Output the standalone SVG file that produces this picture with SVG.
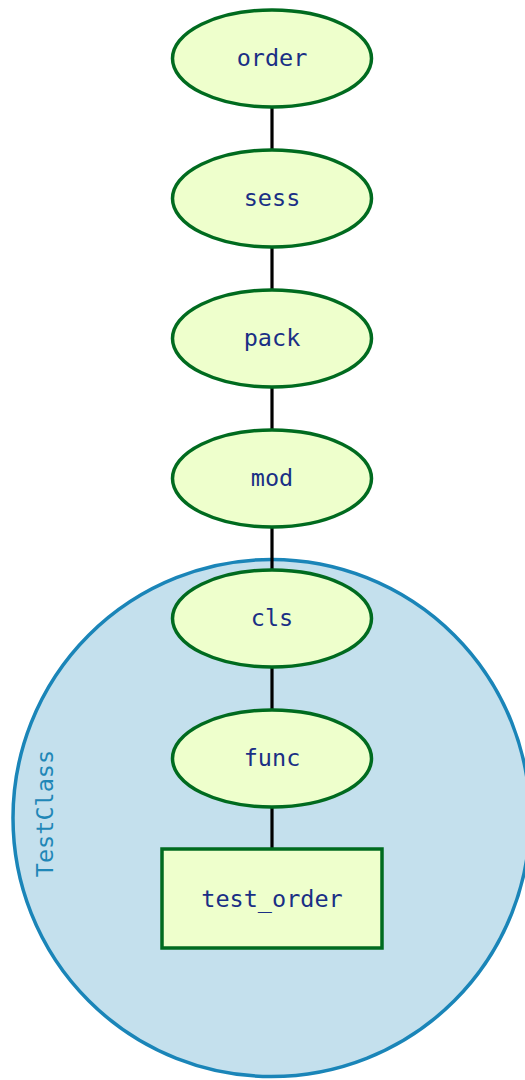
<svg xmlns="http://www.w3.org/2000/svg" width="525" height="1080" viewBox="0 0 525 1080">
<style>
.n{fill:#eeffcc;stroke:#006b1f;stroke-width:3.5}
.t{font-family:"DejaVu Sans Mono",monospace;font-size:23.5px;fill:#1a2f85;text-anchor:middle}
.e{stroke:#000;stroke-width:3.2;fill:none}
</style>
<rect width="525" height="1080" fill="#fff"/>
<g id="cluster_TestClass">
<circle cx="271.5" cy="818" r="258.5" fill="#c4e0ed" stroke="#1a85b8" stroke-width="3.5"/>
<text transform="translate(53,813.5) rotate(-90)" style="font-family:'DejaVu Sans Mono',monospace;font-size:23.5px;fill:#1f87b7;text-anchor:middle">TestClass</text>
</g>
<g id="edges">
<line class="e" x1="272" y1="107" x2="272" y2="150"/>
<line class="e" x1="272" y1="247" x2="272" y2="290"/>
<line class="e" x1="272" y1="387" x2="272" y2="430"/>
<line class="e" x1="272" y1="527" x2="272" y2="570"/>
<line class="e" x1="272" y1="667" x2="272" y2="710"/>
<line class="e" x1="272" y1="807" x2="272" y2="849"/>
</g>
<g id="order"><ellipse class="n" cx="272" cy="58.5" rx="99.5" ry="48.5"/><text class="t" x="272" y="66">order</text></g>
<g id="sess"><ellipse class="n" cx="272" cy="198.5" rx="99.5" ry="48.5"/><text class="t" x="272" y="206">sess</text></g>
<g id="pack"><ellipse class="n" cx="272" cy="338.5" rx="99.5" ry="48.5"/><text class="t" x="272" y="346">pack</text></g>
<g id="mod"><ellipse class="n" cx="272" cy="478.5" rx="99.5" ry="48.5"/><text class="t" x="272" y="486">mod</text></g>
<g id="cls"><ellipse class="n" cx="272" cy="618.5" rx="99.5" ry="48.5"/><text class="t" x="272" y="626">cls</text></g>
<g id="func"><ellipse class="n" cx="272" cy="758.5" rx="99.5" ry="48.5"/><text class="t" x="272" y="766">func</text></g>
<g id="test_order"><rect class="n" x="162" y="849" width="220" height="99"/><text class="t" x="272" y="906.5">test_order</text></g>
</svg>
